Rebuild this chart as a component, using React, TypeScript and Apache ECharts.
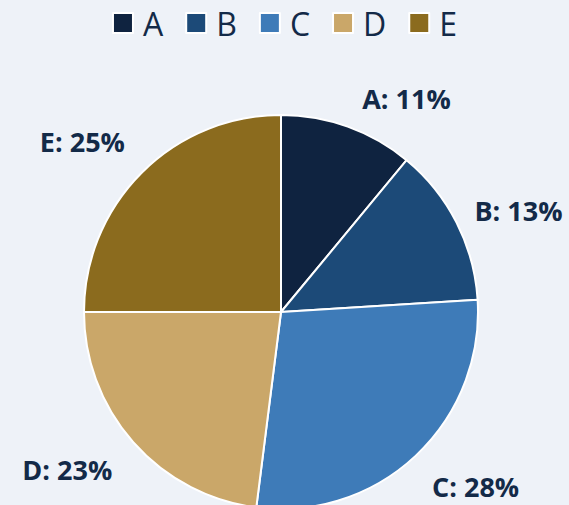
import React, { useEffect, useRef } from "react";
import * as echarts from "echarts";

const categories = ["A", "B", "C", "D", "E"];
const values = [11, 13, 28, 23, 25];
const colors = ["#0f2340", "#1c4a78", "#3e7bb8", "#caa769", "#8b6b1e"];
// label nudges (style only) to mimic the reference's label placement
const labelNudges = [
  [0, -2],
  [-12, 1],
  [-8, 10],
  [5, 9],
  [8, -11],
];

export default function App() {
  const ref = useRef<HTMLDivElement>(null);
  useEffect(() => {
    document.body.style.margin = "0";
    const chart = echarts.init(ref.current!, null, { renderer: "svg" });
    chart.setOption({
      animation: false,
      backgroundColor: "#eef2f8",
      color: colors,
      legend: {
        top: 2,
        left: "center",
        icon: "rect",
        itemWidth: 20,
        itemHeight: 20,
        itemGap: 22,
        itemStyle: { borderColor: "#ffffff", borderWidth: 2 },
        textStyle: {
          fontFamily: "Open Sans",
          fontSize: 32,
          color: "#132a48",
          padding: [0, 0, 0, 5],
        },
        data: categories,
      },
      series: [
        {
          type: "pie",
          center: [281, 312],
          radius: [0, 197],
          startAngle: 90,
          clockwise: true,
          avoidLabelOverlap: false,
          itemStyle: { borderColor: "#ffffff", borderWidth: 2 },
          label: {
            show: true,
            position: "outside",
            formatter: "{b}: {c}%",
            fontFamily: "Open Sans",
            fontWeight: "bold",
            fontSize: 27,
            color: "#132a48",
          },
          labelLine: { show: false, length: 28, length2: 0 },
          labelLayout: (p: any) => ({
            dx: labelNudges[p.dataIndex][0],
            dy: labelNudges[p.dataIndex][1],
          }),
          emphasis: { disabled: true },
          data: categories.map((c, i) => ({ name: c, value: values[i] })),
        },
      ],
    });
    return () => chart.dispose();
  }, []);
  return <div ref={ref} style={{ width: 569, height: 505 }} />;
}
